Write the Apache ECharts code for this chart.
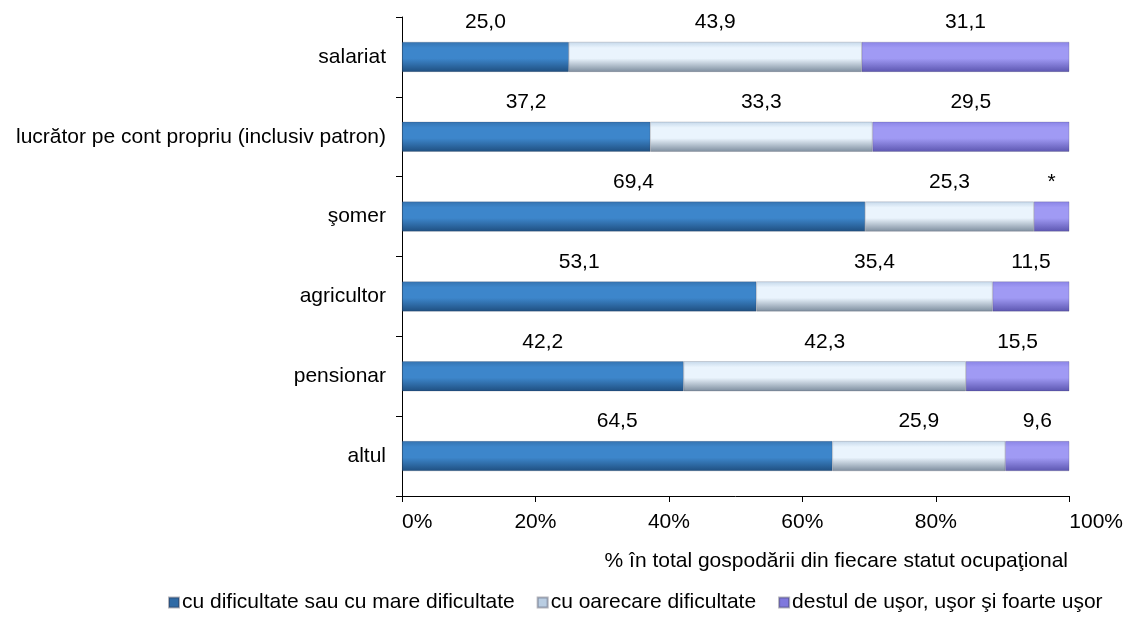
<!DOCTYPE html>
<html>
<head>
<meta charset="utf-8">
<script src="https://cdn.jsdelivr.net/npm/echarts@6/dist/echarts.min.js"></script>
<style>
    html, body {margin:0;padding:0;background:#ffffff;}
    #chart {width:1126px;height:618px;}
</style>
</head>
<body>
<div id="chart"></div>
<script>
    // categorii (de sus in jos)
    var categories = ['salariat', 'lucrător pe cont propriu (inclusiv patron)', 'şomer', 'agricultor', 'pensionar', 'altul'];
    var seriesNames = ['cu dificultate sau cu mare dificultate', 'cu oarecare dificultate', 'destul de uşor, uşor şi foarte uşor'];
    var valDificil = [25.0, 37.2, 69.4, 53.1, 42.2, 64.5];
    var valOarecare = [43.9, 33.3, 25.3, 35.4, 42.3, 25.9];
    var valUsor = [31.1, 29.5, 5.3, 11.5, 15.5, 9.6];
    // valori nesemnificative statistic, afisate cu "*"
    var starUsor = [false, false, true, false, false, false];
    var xTicks = [0, 20, 40, 60, 80, 100];

    var chart = echarts.init(document.getElementById('chart'));

    function bevel(edgeTop, mid, edgeBottom) {
        return new echarts.graphic.LinearGradient(0, 0, 0, 1, [
            {offset: 0, color: edgeTop},
            {offset: 0.2, color: mid},
            {offset: 0.55, color: mid},
            {offset: 1, color: edgeBottom}
        ]);
    }

    var colors = [
        bevel('#3573b0', '#3d86cb', '#1f4f80'),
        bevel('#c5d8ea', '#eaf4fd', '#7d8d9e'),
        bevel('#8a84e6', '#a09af4', '#5c56b0')
    ];
    var legendColors = ['#2f6aa5', '#b9cde2', '#7f78dd'];

    function fmt(v) {
        return v.toFixed(1).replace('.', ',');
    }

    function makeSeries(idx, values, stars) {
        return {
            name: seriesNames[idx],
            type: 'bar',
            stack: 'total',
            barWidth: 30,
            itemStyle: {color: colors[idx], borderColor: 'rgba(40,40,60,0.35)', borderWidth: 0.5},
            label: {
                show: true,
                position: 'top',
                distance: 9,
                color: '#000',
                fontSize: 21,
                fontFamily: 'Liberation Sans, Arial, sans-serif',
                formatter: function (p) {
                    if (stars && stars[p.dataIndex]) return '*';
                    return fmt(p.value);
                }
            },
            data: values
        };
    }

    var option = {
        animation: false,
        textStyle: {fontFamily: 'Liberation Sans, Arial, sans-serif'},
        title: {
            text: '% în total gospodării din fiecare statut ocupaţional',
            right: 53,
            top: 546,
            textStyle: {fontSize: 21, fontWeight: 'normal', color: '#000'}
        },
        legend: {
            bottom: 0,
            left: 163,
            itemWidth: 10,
            itemHeight: 10,
            itemGap: 22,
            icon: 'rect',
            textStyle: {fontSize: 21, color: '#000', padding: [0, 0, 0, -2]},
            data: seriesNames.map(function (n, i) {
                return {name: n, itemStyle: {color: legendColors[i]}};
            })
        },
        grid: {left: 402, right: 55, top: 17, bottom: 122},
        xAxis: {
            type: 'value',
            min: 0,
            max: 100,
            interval: 20,
            splitLine: {show: false},
            axisLine: {show: true, lineStyle: {color: '#000', width: 1}},
            axisTick: {show: true, length: 6, lineStyle: {color: '#000'}},
            axisLabel: {
                fontSize: 21,
                color: '#000',
                margin: 16,
                alignMinLabel: 'left',
                alignMaxLabel: 'left',
                customValues: xTicks,
                formatter: function (v) { return v + '%'; }
            }
        },
        yAxis: {
            type: 'category',
            inverse: true,
            data: categories,
            axisLine: {show: true, lineStyle: {color: '#000', width: 1}},
            axisTick: {show: true, length: 6, lineStyle: {color: '#000'}},
            axisLabel: {fontSize: 21, color: '#000', margin: 16}
        },
        series: [
            makeSeries(0, valDificil),
            makeSeries(1, valOarecare),
            makeSeries(2, valUsor, starUsor)
        ]
    };

    chart.setOption(option);
</script>
</body>
</html>
